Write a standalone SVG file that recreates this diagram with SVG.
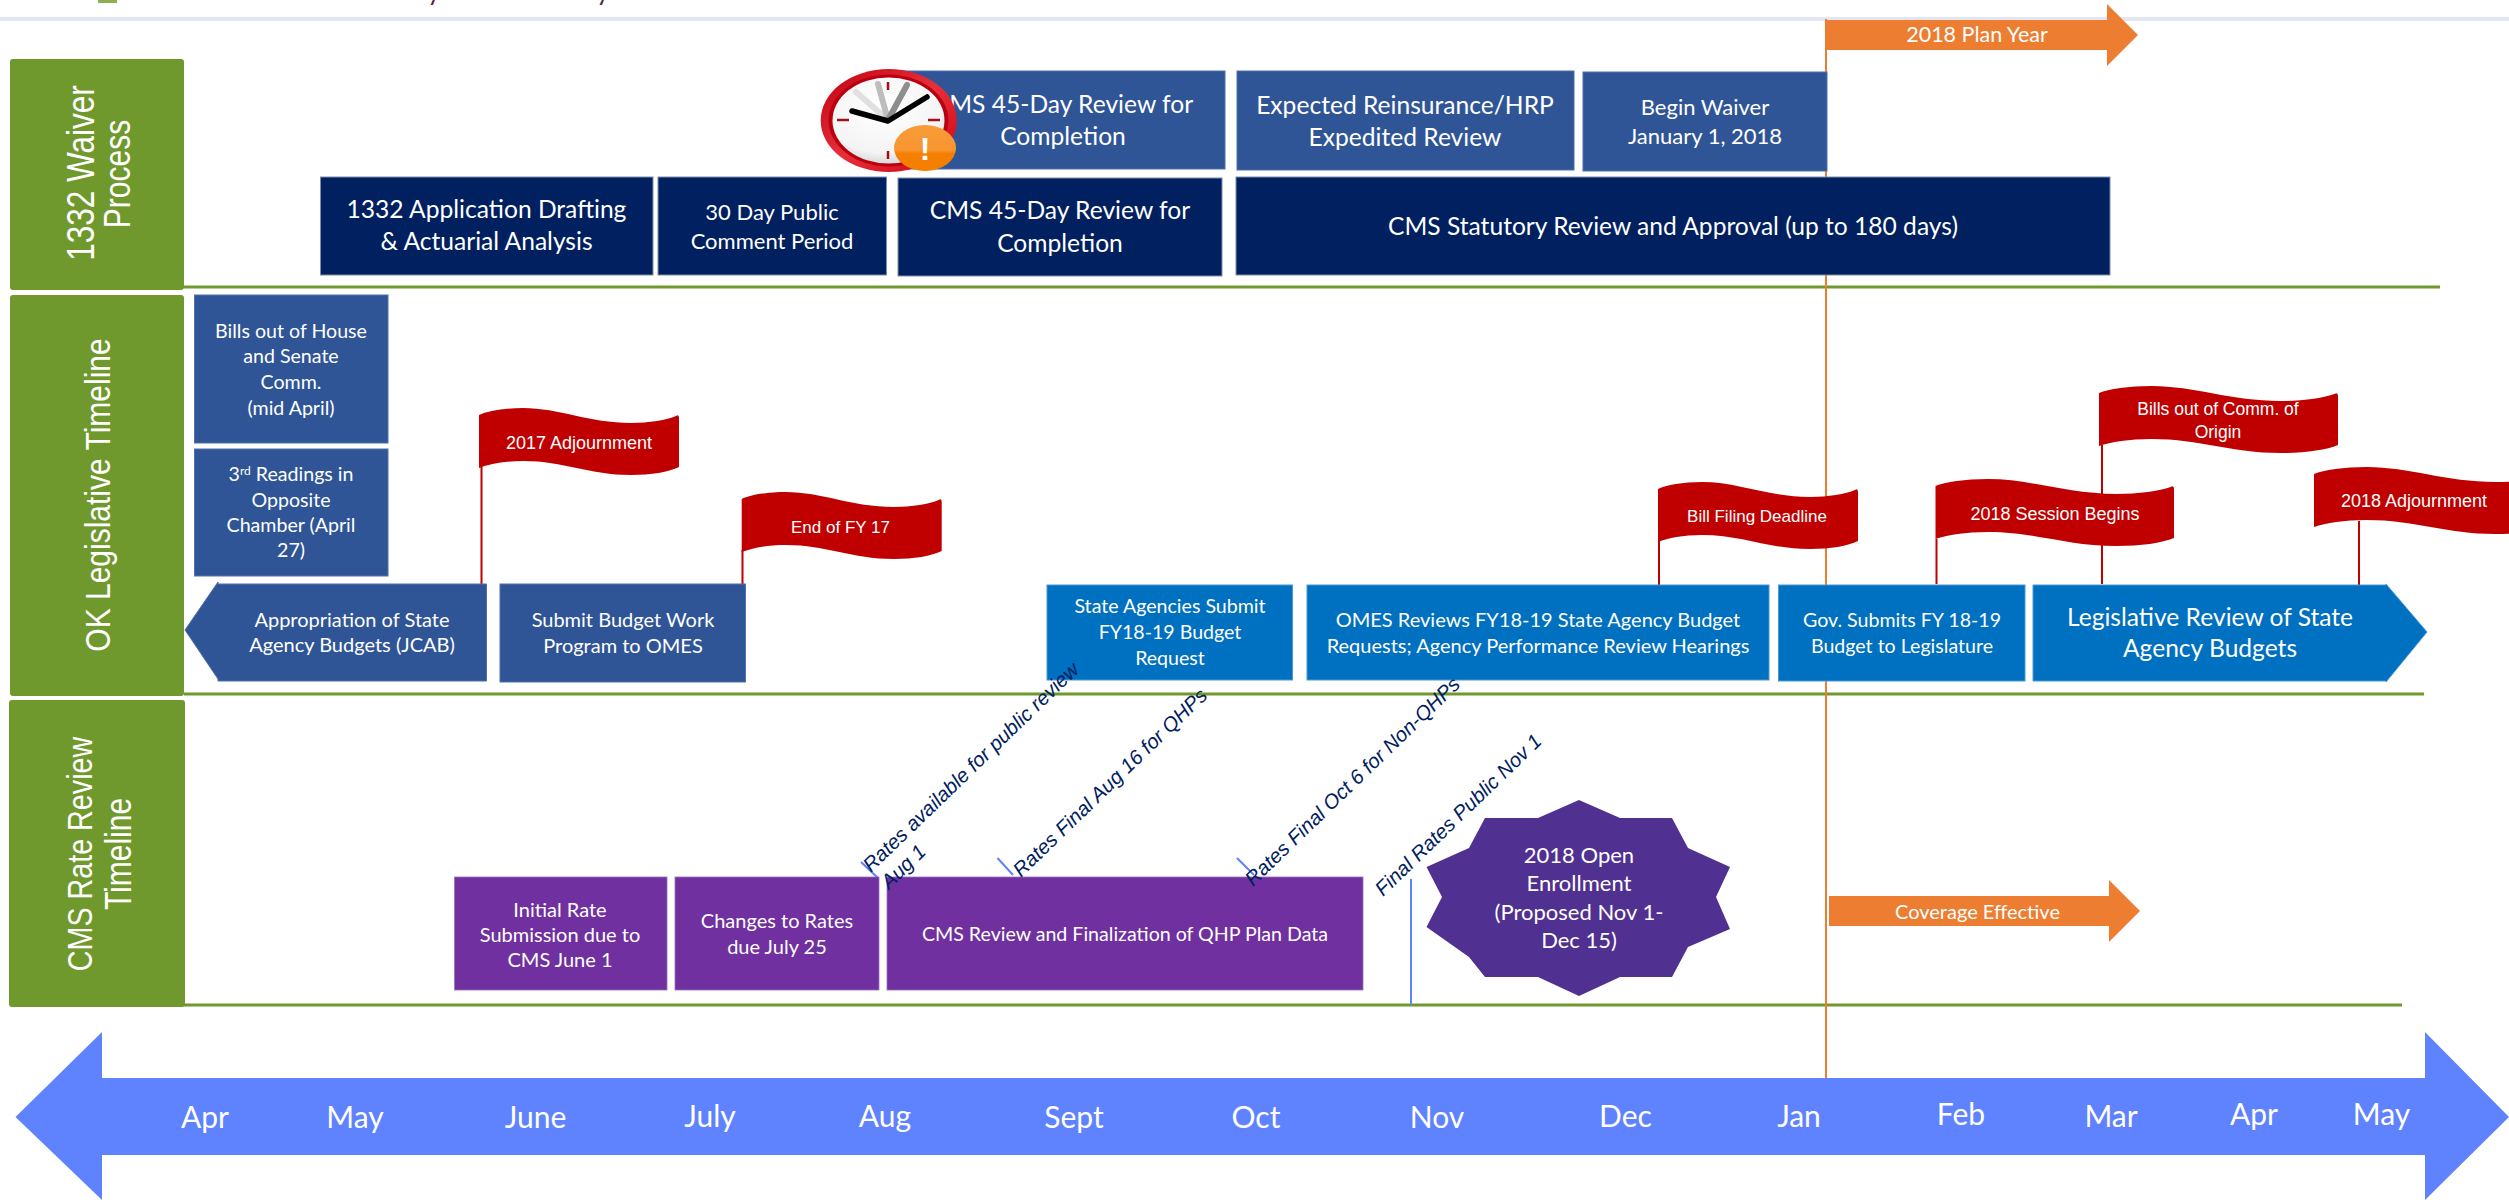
<svg xmlns="http://www.w3.org/2000/svg" width="2509" height="1200" viewBox="0 0 2509 1200">
<style>
text{font-family:"Lato","Carlito","Noto Sans",sans-serif;fill:#fff;text-anchor:middle}
.hd{font-family:"Liberation Sans",Arial,sans-serif;font-size:30px}
.fl{font-family:"Liberation Sans",Arial,sans-serif;font-size:18px}
.s24{font-size:24.600px}.s22{font-size:22px}.s19{font-size:19.600px}.s20{font-size:20px}
.mo{font-size:30px}
.dg{font-family:"Liberation Sans",Arial,sans-serif;font-style:italic;font-size:20.300px;fill:#002060;text-anchor:start}
.nv{fill:#002060;stroke:#7f8da6;stroke-width:1}
.bl{fill:#2f5597;stroke:#4f71ad;stroke-width:1}
.lb{fill:#0070c0;stroke:#4b9ad4;stroke-width:1}
.pu{fill:#7030a0;stroke:#9a70bb;stroke-width:.8}
.gr{fill:#6f982d}
.or{fill:#ed7d31}
.rd{fill:#c00000}
.gl{stroke:#6f982d;stroke-width:3;fill:none}
.pole{stroke:#c00000;stroke-width:2;fill:none}
.tick{stroke:#5f82ff;stroke-width:2;fill:none}
</style>
<defs>
<path id="flag" d="M0 7C8 3 25 0 44 0C80 0 110 15 152 15C170 15 188 12 197 8Q200 6 200 10L200 59C190 64 172 67 152 67C110 67 85 53 44 53C25 53 10 56 0 60Z"/>
<radialGradient id="face" cx="0.45" cy="0.35" r="0.75"><stop offset="0" stop-color="#ffffff"/><stop offset="0.7" stop-color="#f4f4f4"/><stop offset="1" stop-color="#c4c4c4"/></radialGradient>
<linearGradient id="ring" x1="0" y1="0" x2="1" y2="1"><stop offset="0" stop-color="#c00010"/><stop offset="0.5" stop-color="#e8303a"/><stop offset="1" stop-color="#d00010"/></linearGradient>
<linearGradient id="badge" x1="0" y1="0" x2="0" y2="1"><stop offset="0" stop-color="#f89c38"/><stop offset="0.55" stop-color="#f79530"/><stop offset="0.62" stop-color="#f58000"/><stop offset="1" stop-color="#f47e00"/></linearGradient>
</defs>
<rect width="2509" height="1200" fill="#fff"/>
<g id="page-top">
<rect x="98" y="0" width="19" height="3" fill="#8db04f"/>
<rect x="0" y="17" width="2509" height="4" fill="#e4e6f2"/>
<text x="434" y="0" style="font-size:26px;fill:#5a1f3c">y</text>
<text x="603" y="0" style="font-size:26px;fill:#5a1f3c">y</text>
</g>
<g id="connectors">
<path class="gl" d="M184 287H2440M184 694H2424M184 1005H2402"/>
<path d="M1826 19V1079" stroke="#ed7d31" stroke-width="2" fill="none"/>
<path class="pole" d="M481.500 467V584M742.500 550V584M1659 541V585M1936.500 539V584M2102 445V584M2359 521V585"/>
<path class="tick" d="M861 862L878 878M997.500 858L1013 875M1237 858L1254 875M1411 879V1005"/>
</g>
<g id="hdr-waiver"><rect class="gr" x="10" y="59" width="174" height="231" rx="3"/>
<text class="hd" style="font-size:31.500px" transform="translate(94 173) rotate(-90) scale(1 1.25)">1332 Waiver</text>
<text class="hd" transform="translate(130 174) rotate(-90) scale(1 1.25)">Process</text></g>
<g id="hdr-legislative"><rect class="gr" x="10" y="295" width="174" height="401" rx="3"/>
<text class="hd" transform="translate(110 495) rotate(-90) scale(1 1.18)">OK Legislative Timeline</text></g>
<g id="hdr-rate"><rect class="gr" x="9" y="700" width="176" height="307" rx="3"/>
<text class="hd" style="font-size:28.700px" transform="translate(92 854) rotate(-90) scale(1 1.2)">CMS Rate Review</text>
<text class="hd" transform="translate(131 854) rotate(-90) scale(1 1.2)">Timeline</text></g>
<g id="plan-year"><path class="or" d="M1827 20H2107V4L2138 35L2107 66V50H1827Z"/>
<text x="1977" y="42" style="font-size:21.500px">2018 Plan Year</text></g>
<g id="cms45-top"><rect class="bl" x="900" y="71" width="325" height="98"/>
<text class="s24" x="1063" y="113">CMS 45-Day Review for</text><text class="s24" x="1063" y="145">Completion</text></g>
<g id="reinsurance"><rect class="bl" x="1237" y="71" width="337" height="99"/>
<text class="s24" x="1405" y="114">Expected Reinsurance/HRP</text><text class="s24" x="1405" y="146">Expedited Review</text></g>
<g id="begin-waiver"><rect class="bl" x="1583" y="72" width="244" height="99"/>
<text class="s22" x="1705" y="115">Begin Waiver</text><text class="s22" x="1705" y="144">January 1, 2018</text></g>
<g id="drafting"><rect class="nv" x="320.500" y="177" width="332.500" height="98"/>
<text class="s24" x="486.500" y="218">1332 Application Drafting</text><text class="s24" x="486.500" y="250">&amp; Actuarial Analysis</text></g>
<g id="comment"><rect class="nv" x="658" y="177" width="228.500" height="98"/>
<text class="s22" x="772" y="220">30 Day Public</text><text class="s22" x="772" y="249">Comment Period</text></g>
<g id="cms45"><rect class="nv" x="898" y="178" width="324" height="98"/>
<text class="s24" x="1060" y="219">CMS 45-Day Review for</text><text class="s24" x="1060" y="252">Completion</text></g>
<g id="statutory"><rect class="nv" x="1236" y="177" width="874" height="98"/>
<text class="s24" x="1673" y="235">CMS Statutory Review and Approval (up to 180 days)</text></g>
<g id="clock">
<ellipse cx="888.700" cy="120.500" rx="68" ry="51.500" fill="url(#ring)"/>
<ellipse cx="888.500" cy="120.500" rx="60" ry="46" fill="#b80010"/>
<ellipse cx="888.500" cy="120.500" rx="56" ry="43" fill="url(#face)"/>
<path d="M888 82V90M888 151V159M837 120H849M928 120H940" stroke="#a01018" stroke-width="2.500" fill="none"/>
<path d="M888 120L856 92" stroke="#e0e0e0" stroke-width="6" stroke-linecap="round"/>
<path d="M888 120L878 84" stroke="#bdbdbd" stroke-width="6" stroke-linecap="round"/>
<path d="M888 120L907 85" stroke="#8e8e8e" stroke-width="6" stroke-linecap="round"/>
<path d="M852 111L888 121L927 97" stroke="#000" stroke-width="5.500" stroke-linecap="round" stroke-linejoin="round" fill="none"/>
<ellipse cx="925" cy="148" rx="31" ry="23" fill="url(#badge)"/>
<text x="925" y="160" style="font-family:'Liberation Sans',Arial,sans-serif;font-size:32px;font-weight:bold">!</text>
</g>
<g id="bills-out"><rect class="bl" x="194.500" y="295" width="193.500" height="148"/>
<text class="s19" x="291" y="338">Bills out of House</text><text class="s19" x="291" y="363">and Senate</text><text class="s19" x="291" y="389">Comm.</text><text class="s19" x="291" y="415">(mid April)</text></g>
<g id="third-readings"><rect class="bl" x="194.500" y="449" width="193.500" height="127"/>
<text class="s19" x="291" y="481">3<tspan font-size="12" dy="-6">rd</tspan><tspan dy="6"> Readings in</tspan></text><text class="s19" x="291" y="507">Opposite</text><text class="s19" x="291" y="532">Chamber (April</text><text class="s19" x="291" y="557">27)</text></g>
<g id="appropriation"><path class="bl" d="M486.500 584V681H218V679L185 630L218 582V584Z"/>
<text class="s20" x="352" y="627">Appropriation of State</text><text class="s20" x="352" y="652">Agency Budgets (JCAB)</text></g>
<g id="submit-budget"><rect class="bl" x="500" y="584" width="245.500" height="98"/>
<text class="s20" x="623" y="627">Submit Budget Work</text><text class="s20" x="623" y="653">Program to OMES</text></g>
<g id="agencies-submit"><rect class="lb" x="1047" y="585" width="245.500" height="95"/>
<text class="s19" x="1170" y="613">State Agencies Submit</text><text class="s19" x="1170" y="639">FY18-19 Budget</text><text class="s19" x="1170" y="665">Request</text></g>
<g id="omes"><rect class="lb" x="1307" y="585" width="462" height="95"/>
<text class="s20" x="1538" y="627">OMES Reviews FY18-19 State Agency Budget</text><text class="s20" x="1538" y="653">Requests; Agency Performance Review Hearings</text></g>
<g id="gov"><rect class="lb" x="1778.500" y="585" width="246.500" height="96"/>
<text class="s19" x="1902" y="627">Gov. Submits FY 18-19</text><text class="s19" x="1902" y="653">Budget to Legislature</text></g>
<g id="legislative-review"><path class="lb" d="M2033 585H2386V584L2427 632L2386 682V681H2033Z"/>
<text class="s24" x="2210" y="626">Legislative Review of State</text><text class="s24" x="2210" y="657">Agency Budgets</text></g>
<g id="flag-2017"><use href="#flag" class="rd" transform="translate(479 408)"/><text class="fl" x="579" y="449">2017 Adjournment</text></g>
<g id="flag-fy17"><use href="#flag" class="rd" transform="translate(741.700 492)"/><text class="fl" x="840.500" y="533" style="font-size:17px">End of FY 17</text></g>
<g id="flag-filing"><use href="#flag" class="rd" transform="translate(1658 482)"/><text class="fl" x="1757" y="522" style="font-size:17px">Bill Filing Deadline</text></g>
<g id="flag-session"><use href="#flag" class="rd" transform="translate(1935.500 479) scale(1.1925 1)"/><text class="fl" x="2055" y="520">2018 Session Begins</text></g>
<g id="flag-origin"><use href="#flag" class="rd" transform="translate(2099 386) scale(1.195 1)"/><text class="fl" x="2218" y="415" style="font-size:17.500px">Bills out of Comm. of</text><text class="fl" x="2218" y="438" style="font-size:17.500px">Origin</text></g>
<g id="flag-2018"><use href="#flag" class="rd" transform="translate(2314 467) scale(1.195 1)"/><text class="fl" x="2414" y="507">2018 Adjournment</text></g>
<g id="initial-rate"><rect class="pu" x="454.500" y="877" width="212.500" height="113"/>
<text class="s20" x="560" y="917">Initial Rate</text><text class="s20" x="560" y="942">Submission due to</text><text class="s20" x="560" y="967">CMS June 1</text></g>
<g id="changes"><rect class="pu" x="675" y="877" width="204" height="113"/>
<text class="s20" x="777" y="928">Changes to Rates</text><text class="s20" x="777" y="954">due July 25</text></g>
<g id="cms-review"><rect class="pu" x="887" y="877" width="476" height="113"/>
<text class="s19" x="1125" y="941">CMS Review and Finalization of QHP Plan Data</text></g>
<g id="open-enrollment"><path fill="#503090" d="M1579 800L1620 818H1672L1688 848L1730 867L1716 897L1730 929L1688 947L1672 977H1620L1579 996L1538 977H1485L1469 957L1426.500 927L1442 897L1426.500 867L1469 848L1485 818H1538Z"/>
<text class="s22" x="1579" y="863">2018 Open</text><text class="s22" x="1579" y="891">Enrollment</text><text class="s22" x="1579" y="920">(Proposed Nov 1-</text><text class="s22" x="1579" y="948">Dec 15)</text></g>
<g id="coverage"><path class="or" d="M1829 896H2109V880L2140 911L2109 942V926H1829Z"/>
<text class="s20" x="1977.500" y="919">Coverage Effective</text></g>
<g id="timeline-arrow"><path fill="#5f82ff" d="M15.500 1117L102 1032V1078H2425V1032L2509 1117L2425 1200V1155H102V1200Z"/>
<text class="mo" x="205" y="1128">Apr</text><text class="mo" x="355" y="1128">May</text><text class="mo" x="535.500" y="1128">June</text><text class="mo" x="710" y="1127">July</text><text class="mo" x="885" y="1127">Aug</text><text class="mo" x="1074" y="1128">Sept</text><text class="mo" x="1256" y="1128">Oct</text><text class="mo" x="1437" y="1128">Nov</text><text class="mo" x="1625.500" y="1127">Dec</text><text class="mo" x="1799" y="1127">Jan</text><text class="mo" x="1961" y="1125">Feb</text><text class="mo" x="2111" y="1127">Mar</text><text class="mo" x="2254" y="1125">Apr</text><text class="mo" x="2381.500" y="1125">May</text></g>
<g id="rate-labels">
<text class="dg" transform="translate(871 873) rotate(-44)">Rates available for public review</text>
<text class="dg" transform="translate(889 890) rotate(-44)">Aug 1</text>
<text class="dg" transform="translate(1021 878) rotate(-44)">Rates Final Aug 16 for QHPs</text>
<text class="dg" transform="translate(1253 887) rotate(-44)">Rates Final Oct 6 for Non-QHPs</text>
<text class="dg" transform="translate(1383 897) rotate(-44)">Final Rates Public Nov 1</text>
</g>
</svg>
